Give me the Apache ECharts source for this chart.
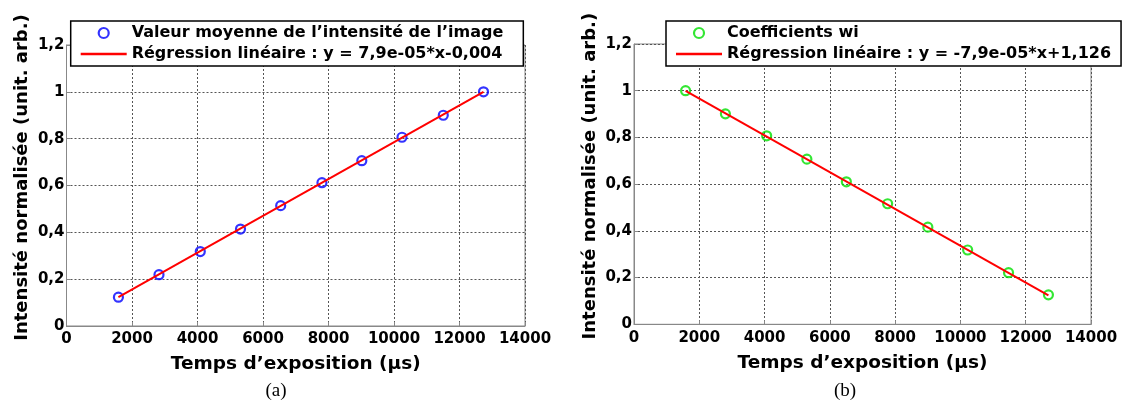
<!DOCTYPE html>
<html><head><meta charset="utf-8">
<script src="https://cdn.jsdelivr.net/npm/echarts@6/dist/echarts.min.js"></script>
<style>html,body{margin:0;padding:0;background:#fff}#c{width:1130px;height:404px}</style>
</head><body><div id="c"></div>
<script>
// ---- data ----
const exposureA = [1585, 2824, 4085, 5313, 6540, 7800, 9017, 10244, 11505, 12733];
const intensityA = [0.123, 0.219, 0.318, 0.414, 0.514, 0.612, 0.706, 0.806, 0.900, 1.000];
const fitXA = [1585, 12733];
const fitYA = [0.123, 1.000];

const exposureB = [1580, 2800, 4064, 5296, 6505, 7770, 9002, 10221, 11474, 12696];
const weightsB = [1.000, 0.901, 0.807, 0.707, 0.610, 0.516, 0.416, 0.318, 0.221, 0.126];
const fitXB = [1580, 12696];
const fitYB = [0.999, 0.124];

const xTicks = [0, 2000, 4000, 6000, 8000, 10000, 12000, 14000];
const yTicks = ['0', '0,2', '0,4', '0,6', '0,8', '1', '1,2'];

const nameA1 = 'Valeur moyenne de l\u2019intensit\u00e9 de l\u2019image';
const nameA2 = 'R\u00e9gression lin\u00e9aire : y = 7,9e-05*x-0,004';
const nameB1 = 'Coefficients wi';
const nameB2 = 'R\u00e9gression lin\u00e9aire : y = -7,9e-05*x+1,126';
const xTitle = 'Temps d\u2019exposition (\u00b5s)';
const yTitle = 'Intensit\u00e9 normalis\u00e9e (unit. arb.)';
const captions = ['(a)', '(b)'];

// ---- chart ----
const FONT = '"DejaVu Sans", "Liberation Sans", Arial, sans-serif';
const SERIF = '"Liberation Serif", "Times New Roman", serif';
const pair = (xs, ys) => xs.map((x, i) => [x, ys[i]]);

function xAxisDef(gi) {
  return {
    type: 'value', gridIndex: gi, min: 0, max: 14000, interval: 2000,
    name: xTitle, nameLocation: 'middle', nameGap: 29,
    nameTextStyle: { fontFamily: FONT, fontWeight: 'bold', fontSize: 18.5, color: '#000' },
    axisLine: { show: true, lineStyle: { color: '#888', width: 1 } },
    axisTick: { show: true, inside: true, length: 4, lineStyle: { color: '#888' } },
    axisLabel: { fontFamily: FONT, fontWeight: 'bold', fontSize: 15, color: '#000', margin: 6,
      formatter: v => String(xTicks[Math.round(v / 2000)]) },
    splitLine: { show: true, lineStyle: { color: '#555', type: [2, 2], width: 1 } }
  };
}
function yAxisDef(gi) {
  return {
    type: 'value', gridIndex: gi, min: 0, max: 1.2, interval: 0.2,
    name: yTitle, nameLocation: 'middle', nameGap: 35, nameRotate: 90,
    nameTextStyle: { fontFamily: FONT, fontWeight: 'bold', fontSize: 18, color: '#000', padding: [0, 0, 0, 16] },
    axisLine: { show: true, lineStyle: { color: '#888', width: 1 } },
    axisTick: { show: true, inside: true, length: 4, lineStyle: { color: '#888' } },
    axisLabel: { fontFamily: FONT, fontWeight: 'bold', fontSize: 15, color: '#000', margin: 2,
      formatter: v => yTicks[Math.round(v / 0.2)] },
    splitLine: { show: true, lineStyle: { color: '#555', type: [2, 2], width: 1 } }
  };
}
function legendDef(left, names, color, padRight) {
  return {
    left: left, top: 21, orient: 'vertical',
    data: [
      { name: names[0], icon: 'circle',
        itemStyle: { color: '#fff', borderColor: color, borderWidth: 2.2 } },
      { name: names[1], icon: 'path://M0,0H46V2.4H0Z', itemStyle: { color: '#ff0000', borderWidth: 0 } }
    ],
    itemWidth: 46, itemHeight: 10, itemGap: 5,
    padding: [4, padRight, 4, 10],
    backgroundColor: '#fff', borderColor: '#000', borderWidth: 1.5, borderRadius: 0,
    textStyle: { fontFamily: FONT, fontWeight: 'bold', fontSize: 16, color: '#000' },
    selectedMode: false, z: 10
  };
}
function scatterDef(name, gi, data, color) {
  return {
    name: name, type: 'scatter', xAxisIndex: gi, yAxisIndex: gi, data: data,
    symbol: 'circle', symbolSize: 9,
    itemStyle: { color: 'rgba(255,255,255,0)', borderColor: color, borderWidth: 2.2 }, z: 3
  };
}
function lineDef(name, gi, data) {
  return {
    name: name, type: 'line', xAxisIndex: gi, yAxisIndex: gi, data: data,
    symbol: 'none', lineStyle: { color: '#ff0000', width: 2 }, itemStyle: { color: '#ff0000' },
    z: 4, silent: true
  };
}

const chart = echarts.init(document.getElementById('c'), null, { renderer: 'canvas' });
chart.setOption({
  animation: false,
  backgroundColor: '#fff',
  grid: [
    { left: 66.5, right: 1130 - 525, top: 45, bottom: 404 - 326, show: true, borderColor: '#888', borderWidth: 1 },
    { left: 634, right: 1130 - 1091, top: 44, bottom: 404 - 324.3, show: true, borderColor: '#888', borderWidth: 1 }
  ],
  xAxis: [xAxisDef(0), xAxisDef(1)],
  yAxis: [yAxisDef(0), yAxisDef(1)],
  legend: [legendDef(70.7, [nameA1, nameA2], '#0000ff', 20), legendDef(666, [nameB1, nameB2], '#00e000', 10)],
  title: [
    { text: captions[0], left: 276, top: 382, textAlign: 'center', padding: 0,
      textStyle: { fontFamily: SERIF, fontWeight: 'normal', fontSize: 19, color: '#000' } },
    { text: captions[1], left: 845, top: 382, textAlign: 'center', padding: 0,
      textStyle: { fontFamily: SERIF, fontWeight: 'normal', fontSize: 19, color: '#000' } }
  ],
  series: [
    scatterDef(nameA1, 0, pair(exposureA, intensityA), '#0000ff'),
    lineDef(nameA2, 0, pair(fitXA, fitYA)),
    scatterDef(nameB1, 1, pair(exposureB, weightsB), '#00e000'),
    lineDef(nameB2, 1, pair(fitXB, fitYB))
  ]
});
</script></body></html>
